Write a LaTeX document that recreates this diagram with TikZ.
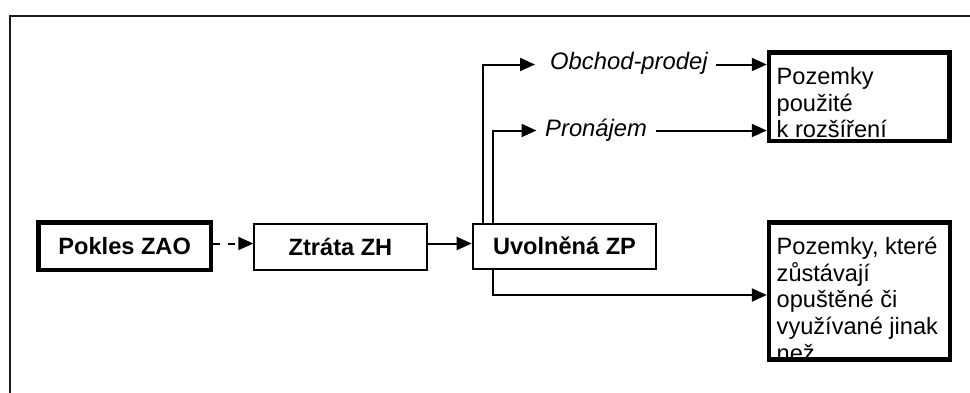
\documentclass[tikz,border=0pt]{standalone}
\usepackage{fontspec}
\setmainfont{Liberation Sans}
\usetikzlibrary{arrows.meta}
\begin{document}
\begin{tikzpicture}[x=1pt,y=-1pt,
  arr/.style={line width=2pt,-{Triangle[length=15pt,width=13pt]}},
  boldtxt/.style={font=\fontsize{23.6}{26.7}\selectfont\bfseries,text height=16.9pt,text depth=0pt,align=center},
  thinbox/.style={draw,line width=2pt,inner sep=0pt,boldtxt},
  thickbox/.style={draw,line width=4.7pt,inner sep=0pt},
  lbl/.style={inner sep=0pt,anchor=base west,font=\fontsize{23.8}{27}\selectfont\itshape},
  boxline/.style={inner sep=0pt,anchor=base west,font=\fontsize{23.6}{26.7}\selectfont},
  frame/.style={line width=2pt,black!90}
]
\useasboundingbox (0,0) rectangle (970,392);
% outer frame (open at right and bottom)
\draw[frame] (10,400) -- (10,15.8) -- (980,15.8);

% main chain
\node[thickbox,boldtxt,minimum width=172.6pt,minimum height=47.6pt] (pokles) at (124.65,246.15) {Pokles ZAO};
\node[thinbox,minimum width=172.4pt,minimum height=46pt] (ztrata) at (340.5,246.7) {Ztráta ZH};
\node[thinbox,minimum width=183.6pt,minimum height=45.3pt] (uvol) at (564.5,246.35) {Uvolněná ZP};

% right boxes
\node[thickbox,line width=4.5pt,minimum width=180.7pt,minimum height=88.7pt] (boxA) at (859.35,96.65) {};
\node[thickbox,line width=4.5pt,minimum width=181.2pt,minimum height=137.2pt] (boxB) at (859.6,290.9) {};

\begin{scope}
  \clip (boxA.north west) rectangle (boxA.south east);
  \node[boxline] (a1) at (776.5,84.5) {Pozemky};
  \node[boxline] (a2) at (776.5,111) {použité};
  \node[boxline] (a3) at (776.5,137.5) {k rozšíření};
\end{scope}
\begin{scope}
  \clip (boxB.north west) rectangle (boxB.south east);
  \node[boxline] (b1) at (776.5,254.5) {Pozemky, které};
  \node[boxline] (b2) at (776.5,281.2) {zůstávají};
  \node[boxline] (b3) at (776.5,307.9) {opuštěné či};
  \node[boxline] (b4) at (776.5,334.6) {využívané jinak};
  \node[boxline] (b5) at (776.5,361.3) {než};
\end{scope}
\node[thickbox,line width=4.5pt,minimum width=180.7pt,minimum height=88.7pt] at (boxA) {};
\node[thickbox,line width=4.5pt,minimum width=181.2pt,minimum height=137.2pt] at (boxB) {};

% labels
\node[lbl] (obchod) at (550,69.5) {Obchod-prodej};
\node[lbl] (pronajem) at (545,136.5) {Pronájem};

% helper coordinates
\coordinate (ay) at (0,243.5);
\coordinate (oy) at (0,64.5);
\coordinate (py) at (0,130.5);
\coordinate (by) at (0,295);
\coordinate (v1) at (482.7,0);
\coordinate (v2) at (493.2,0);

% connectors
\draw[arr,dash pattern=on 7pt off 8pt] (pokles.east |- ay) -- (ztrata.west |- ay);
\draw[arr] (ztrata.east |- ay) -- (uvol.west |- ay);
\draw[arr,shorten >=15pt] (v1 |- uvol.north) |- (oy -| obchod.west);
\draw[arr,shorten >=8.5pt] (v2 |- uvol.north) |- (py -| pronajem.west);
\draw[arr,shorten <=8pt] (oy -| obchod.east) -- (oy -| boxA.west);
\draw[arr,shorten <=8.5pt] (py -| pronajem.east) -- (py -| boxA.west);
\draw[arr] (v2 |- uvol.south) |- (by -| boxB.west);
\end{tikzpicture}
\end{document}
